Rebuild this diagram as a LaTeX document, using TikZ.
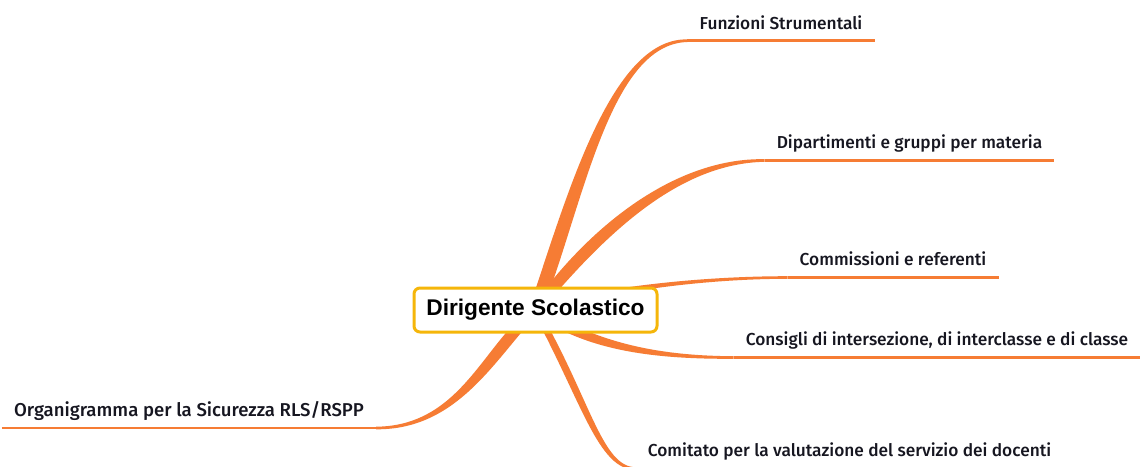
\documentclass[tikz,border=0pt]{standalone}
\usepackage{fontspec}
\usetikzlibrary{calc}
\newfontfamily\leaffont{Fira Sans}[UprightFont={* Medium}]
\newfontfamily\hubfont{Liberation Sans}
\definecolor{branchorange}{RGB}{246,124,52}
\definecolor{hubgold}{RGB}{245,182,10}
\definecolor{leafink}{RGB}{22,22,32}
\tikzset{
  leaf/.style={font=\leaffont\fontsize{17.3}{19}\selectfont, text=leafink, anchor=south,
    inner xsep=12pt, inner ysep=0pt, text depth=11.5pt},
  bigleaf/.style={leaf, font=\leaffont\fontsize{18.6}{21}\selectfont},
  underline/.style={draw=branchorange, line width=2.6pt},
  branch/.style={fill=branchorange},
  hubbox/.style={draw=hubgold, line width=3pt, fill=white, rounded corners=6pt,
    minimum width=243pt, minimum height=44pt, inner sep=0pt,
    font=\hubfont\bfseries\fontsize{22.7}{24}\selectfont, text=black}
}
\begin{document}
\begin{tikzpicture}[x=1pt,y=-1pt]
			\useasboundingbox[fill=white] (0,0) rectangle (1140,466);
			\coordinate (root) at (535.5,310);

			\node[leaf] (fs) at (781,40.7) {Funzioni Strumentali};
			\node[leaf] (dp) at (909.5,160.5) {Dipartimenti e gruppi per materia};
			\node[leaf] (cm) at (893,277.5) {Commissioni e referenti};
			\node[leaf] (cg) at (937,357.5) {Consigli di intersezione, di interclasse e di classe};
			\node[leaf] (ct) at (849.5,468.5) {Comitato per la valutazione del servizio dei docenti};
			\node[bigleaf] (og) at (189,428) {Organigramma per la Sicurezza RLS/RSPP};

			% underlines
			\draw[underline] (fs.south west) -- (fs.south east);
			\draw[underline] (dp.south west) -- (dp.south east);
			\draw[underline] (cm.south west) -- (cm.south east);
			\draw[underline] (cg.south west) -- (cg.south east);
			\draw[underline] (ct.south west) -- (ct.south east);
			\draw[underline] (og.south west) -- (og.south east);

			% tapered branches
			\fill[branch] ($(root)+(-7,0)$) .. controls (566,200) and (610,37.5) .. ($(fs.south west)+(0,-1.3)$)
				-- ($(fs.south west)+(0,1.3)$) .. controls (610,43.9) and (584,202) .. ($(root)+(7,0)$) -- cycle;
			\fill[branch] ($(root)+(-6,0)$) .. controls (593,220) and (680,157.5) .. ($(dp.south west)+(0,-1.3)$)
				-- ($(dp.south west)+(0,1.3)$) .. controls (680,163.5) and (608,231) .. ($(root)+(6,0)$) -- cycle;
			\fill[branch] ($(root)+(0,-3.5)$) .. controls (600,287) and (700,276.2) .. ($(cm.south west)+(0,-1.3)$)
				-- ($(cm.south west)+(0,1.3)$) .. controls (700,278.8) and (600,293) .. ($(root)+(0,3.5)$) -- cycle;
			\fill[branch] ($(root)+(0,-5)$) .. controls (593,340) and (650,355.8) .. ($(cg.south west)+(0,-1.3)$)
				-- ($(cg.south west)+(0,1.3)$) .. controls (650,359.2) and (587,350) .. ($(root)+(0,5)$) -- cycle;
			\fill[branch] ($(root)+(-3.5,0)$) .. controls (582,402) and (598,469.8) .. ($(ct.south west)+(0,1.3)$)
				-- ($(ct.south west)+(0,-1.3)$) .. controls (602,467.2) and (590,398) .. ($(root)+(3.5,0)$) -- cycle;
			\fill[branch] ($(root)+(6,0)$) .. controls (497,355) and (460,430) .. ($(og.south east)+(0,1.3)$)
				-- ($(og.south east)+(0,-1.3)$) .. controls (460,426) and (483,345) .. ($(root)+(-6,0)$) -- cycle;

			\node[hubbox] (hub) at (root) {Dirigente Scolastico};
\end{tikzpicture}
\end{document}
